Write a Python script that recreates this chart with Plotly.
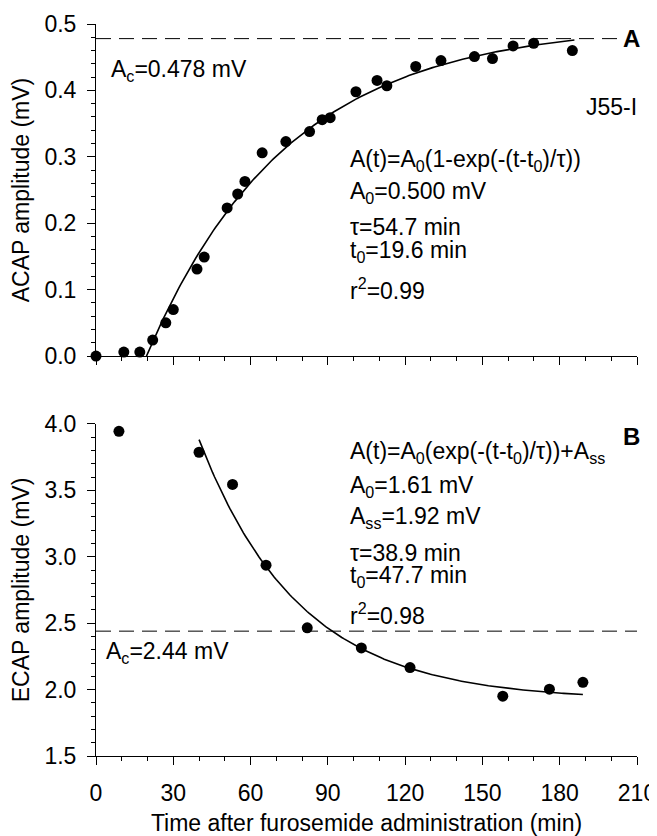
import numpy as np
import plotly.graph_objects as go

# ---------------- data ----------------
acap_t = [0, 10.8, 17.0, 22.0, 27.1, 30.0, 39.2, 42.0, 50.9, 55.0, 57.8, 64.5, 73.7,
          82.9, 87.8, 90.9, 100.9, 109.1, 112.9, 124.1, 133.9, 146.9, 153.9, 161.9,
          169.9, 184.9]
acap_v = [0.000, 0.006, 0.006, 0.024, 0.050, 0.070, 0.131, 0.149, 0.223, 0.244, 0.263,
          0.306, 0.323, 0.338, 0.356, 0.359, 0.398, 0.415, 0.407, 0.436, 0.445, 0.451,
          0.448, 0.467, 0.471, 0.460]

ecap_t = [8.9, 40.0, 53.0, 66.0, 82.0, 103.0, 121.9, 157.9, 176.0, 189.0]
ecap_v = [3.945, 3.787, 3.545, 2.937, 2.465, 2.314, 2.166, 1.950, 2.003, 2.055]

# fit parameters (as printed on the chart)
acap_A0, acap_tau, acap_t0, acap_Ac = 0.500, 54.7, 19.6, 0.478
acap_fit_end = 185.7
ecap_A0, ecap_Ass, ecap_tau, ecap_t0, ecap_Ac = 1.61, 1.92, 38.9, 47.7, 2.44
ecap_fit_start, ecap_fit_end = 40.0, 189.0

x_range = [0, 210]
x_ticks = [0, 30, 60, 90, 120, 150, 180, 210]

# ---------------- fitted curves ----------------
ta = np.linspace(acap_t0, acap_fit_end, 200)
fa = acap_A0 * (1 - np.exp(-(ta - acap_t0) / acap_tau))
tb = np.linspace(ecap_fit_start, ecap_fit_end, 200)
fb = ecap_A0 * np.exp(-(tb - ecap_t0) / ecap_tau) + ecap_Ass

FONT = "Liberation Sans, Arial, Helvetica, sans-serif"
FS = 23

fig = go.Figure()

# panel A
fig.add_trace(go.Scatter(x=x_range, y=[acap_Ac, acap_Ac], mode="lines",
                         line=dict(color="black", width=1, dash="15px,8px"),
                         xaxis="x", yaxis="y", showlegend=False, hoverinfo="skip"))
fig.add_trace(go.Scatter(x=ta, y=fa, mode="lines", line=dict(color="black", width=1.6),
                         xaxis="x", yaxis="y", showlegend=False))
fig.add_trace(go.Scatter(x=acap_t, y=acap_v, mode="markers",
                         marker=dict(color="black", size=11),
                         xaxis="x", yaxis="y", showlegend=False, cliponaxis=False))

# panel B
fig.add_trace(go.Scatter(x=x_range, y=[ecap_Ac, ecap_Ac], mode="lines",
                         line=dict(color="black", width=1, dash="15px,8px"),
                         xaxis="x2", yaxis="y2", showlegend=False, hoverinfo="skip"))
fig.add_trace(go.Scatter(x=tb, y=fb, mode="lines", line=dict(color="black", width=1.6),
                         xaxis="x2", yaxis="y2", showlegend=False))
fig.add_trace(go.Scatter(x=ecap_t, y=ecap_v, mode="markers",
                         marker=dict(color="black", size=11),
                         xaxis="x2", yaxis="y2", showlegend=False, cliponaxis=False))

axis_common = dict(showline=True, linecolor="black", linewidth=1, mirror=False,
                   ticks="outside", ticklen=8, tickwidth=1, tickcolor="black",
                   showgrid=False, zeroline=False, automargin=False,
                   tickfont=dict(family=FONT, size=FS, color="black"))

# the page adds an 8px body margin, so the figure is 8px smaller and offset
fig.update_layout(
    width=649, height=828,
    margin=dict(l=88, r=20, t=16, b=80),
    paper_bgcolor="white", plot_bgcolor="white",
    font=dict(family=FONT, size=FS, color="black"),
    xaxis=dict(**axis_common, domain=[0, 1], range=x_range, tickvals=x_ticks,
               showticklabels=False, anchor="y",
               minor=dict(ticks="outside", ticklen=4, dtick=10, tickcolor="black")),
    yaxis=dict(**axis_common, domain=[0.5464, 1], range=[0, 0.5], dtick=0.1,
               tickformat=".1f", anchor="x", ticklabelstandoff=6,
               minor=dict(ticks="outside", ticklen=4, dtick=0.02, tickcolor="black"),
               title=dict(text="ACAP amplitude (mV)", standoff=12,
                          font=dict(family=FONT, size=FS))),
    xaxis2=dict(**axis_common, domain=[0, 1], range=x_range, tickvals=x_ticks,
                anchor="y2", ticklabelstandoff=8, ticklabeloverflow="allow",
                minor=dict(ticks="outside", ticklen=4, dtick=10, tickcolor="black"),
                title=dict(text="Time after furosemide administration (min)", standoff=14,
                           font=dict(family=FONT, size=FS))),
    yaxis2=dict(**axis_common, domain=[0, 0.4536], range=[1.5, 4.0], dtick=0.5,
                tickformat=".1f", anchor="x2", ticklabelstandoff=6,
                minor=dict(ticks="outside", ticklen=4, dtick=0.1, tickcolor="black"),
                title=dict(text="ECAP amplitude (mV)", standoff=12,
                           font=dict(family=FONT, size=FS))),
)

def note(text, x, y, xref, yref, xanchor="left", bold=False, bg=None, size=FS):
    fig.add_annotation(text=("<b>%s</b>" % text) if bold else text, x=x, y=y,
                       xref=xref, yref=yref, xanchor=xanchor, yanchor="middle",
                       showarrow=False, bgcolor=bg, borderpad=0,
                       font=dict(family=FONT, size=size, color="black"))

# panel A notes
note("A<sub>c</sub>=0.478 mV", 0.026, 0.861, "x domain", "y domain")
note("J55-I", 1.002, 0.7515, "x domain", "y domain", xanchor="right")
note("A", 1.007, 0.956, "x domain", "y domain", xanchor="right", bold=True, bg="white", size=24)
top_lines = ["A(t)=A<sub>0</sub>(1-exp(-(t-t<sub>0</sub>)/τ))",
             "A<sub>0</sub>=0.500 mV", "τ=54.7 min", "t<sub>0</sub>=19.6 min",
             "r<sup>2</sup>=0.99"]
top_y = [0.590, 0.494, 0.389, 0.316, 0.202]
for s, yy in zip(top_lines, top_y):
    note(s, 0.468, yy, "x domain", "y domain")

# panel B notes
note("B", 1.007, 0.961, "x2 domain", "y2 domain", xanchor="right", bold=True, size=24)
bot_lines = ["A(t)=A<sub>0</sub>(exp(-(t-t<sub>0</sub>)/τ))+A<sub>ss</sub>",
             "A<sub>0</sub>=1.61 mV", "A<sub>ss</sub>=1.92 mV", "τ=38.9 min",
             "t<sub>0</sub>=47.7 min", "r<sup>2</sup>=0.98"]
bot_y = [0.913, 0.813, 0.717, 0.611, 0.542, 0.428]
for s, yy in zip(bot_lines, bot_y):
    note(s, 0.468, yy, "x2 domain", "y2 domain")
note("A<sub>c</sub>=2.44 mV", 0.0166, 0.313, "x2 domain", "y2 domain")

fig.write_html("out.html")
